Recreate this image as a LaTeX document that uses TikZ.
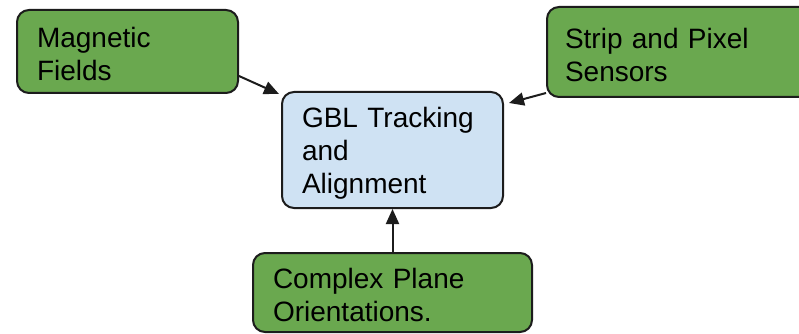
\documentclass[tikz,border=0pt]{standalone}
\usepackage{fontspec}
\setmainfont{Liberation Sans}
\usetikzlibrary{arrows.meta}
\definecolor{boxgreen}{HTML}{6AA84F}
\definecolor{boxblue}{HTML}{CFE2F3}
\definecolor{edge}{HTML}{1C1C1C}
\tikzset{
  card/.style={draw=edge, line width=2pt, rounded corners=12pt,
    align=left, inner xsep=20pt, inner ysep=0pt,
    font=\fontsize{28}{33}\selectfont, text=black,
    execute at begin node={\rule{0pt}{26pt}}},
  source/.style={card, fill=boxgreen},
  target/.style={card, fill=boxblue},
  feed/.style={draw=edge, line width=2pt,
    -{Triangle[length=15pt,width=13pt]}}
}
\begin{document}
\begin{tikzpicture}[x=1pt,y=-1pt]
  \clip (0,0) rectangle (799,334);
  \fill[white] (0,0) rectangle (799,334);

  % input boxes
  \node[source, minimum width=221pt, minimum height=83pt, text width=181pt]
    (mag) at (127.5,51.5) {Magnetic\\Fields};
  \node[source, minimum width=285pt, minimum height=90pt, text width=249pt,
    inner xsep=18pt]
    (strip) at (689.5,52) {Strip and Pixel\\Sensors};
  \node[source, minimum width=279pt, minimum height=79pt, text width=239pt]
    (comp) at (392.5,292.5) {Complex Plane\\Orientations.};

  % central box
  \node[target, minimum width=221pt, minimum height=116pt, text width=181pt]
    (gbl) at (392.5,150) {GBL Tracking\\and\\Alignment};

  % connectors
  \draw[feed] ([yshift=18pt]mag.south east) -- ([shift={(-2pt,-3pt)}]gbl.north west);
  \draw[feed] ([yshift=5pt]strip.south west) -- ([shift={(5pt,-12pt)}]gbl.north east);
  \draw[feed] (comp) -- (gbl);
\end{tikzpicture}
\end{document}
